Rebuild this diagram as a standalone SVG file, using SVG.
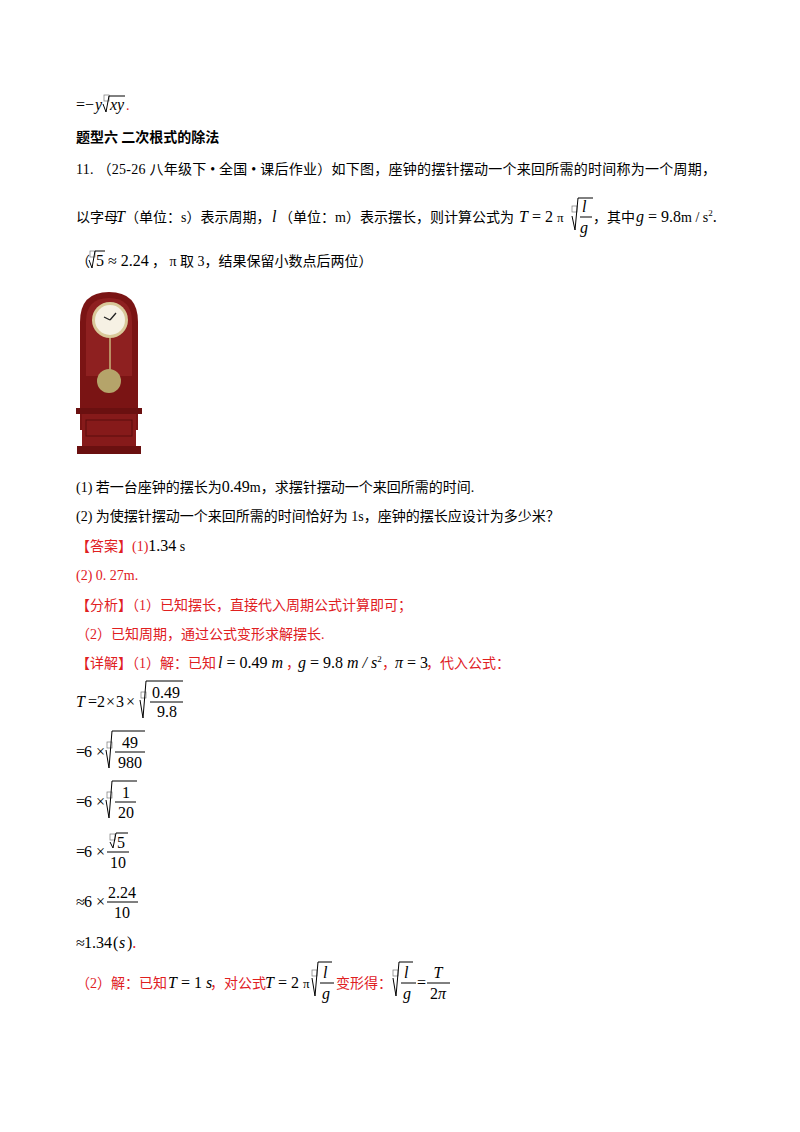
<svg xmlns="http://www.w3.org/2000/svg" width="800" height="1132" viewBox="0 0 800 1132">
<style>
text{font-family:"Liberation Serif","Noto Sans CJK SC",serif;font-size:14px;fill:#000}
.r{fill:#e0201f}
.k{fill:#000}
.i{font-style:italic}
.b{font-weight:bold;font-family:"Noto Sans CJK SC",sans-serif;font-size:14px}
.m{font-size:16px}
.ln{stroke:#000;stroke-width:1;fill:none}
.tofu{fill:#fff;stroke:#777;stroke-width:0.7}
</style>
<rect width="800" height="1132" fill="#fff"/>
<g id="line1">
<text x="76" y="110" class="m">=</text>
<text x="85" y="110" class="m">−</text>
<text x="95" y="110" class="m i">y</text>
<rect class="tofu" x="104" y="95" width="5" height="6"/>
<path class="ln" d="M103,104 l3,8 l3,-16 h16"/>
<text x="110" y="110" class="m i">xy</text><text x="126" y="110" class="r">.</text>
</g>
<text x="76" y="142" class="b">题型六  二次根式的除法</text>
<text x="76" y="174" textLength="640" lengthAdjust="spacing">11. （25-26 八年级下 • 全国 • 课后作业）如下图，座钟的摆针摆动一个来回所需的时间称为一个周期，</text>
<g id="line4">
<text x="76" y="222">以字母</text>
<text x="116" y="222" class="i m">T</text>
<text x="125" y="222">（单位：s）表示周期，</text>
<text x="272" y="222" class="i m">l</text>
<text x="279" y="222">（单位：m）表示摆长，则计算公式为</text>
<text x="519" y="222" class="m"><tspan class="i">T</tspan> = 2 <tspan font-size="13">π</tspan></text>
<rect class="tofu" x="572" y="206" width="5" height="6"/>
<path class="ln" d="M572,216 l3,14 l3,-32 h15"/>
<text x="582" y="212" class="m i">l</text>
<line class="ln" x1="580" y1="217" x2="592" y2="217"/>
<text x="580" y="233" class="m i">g</text>
<text x="593" y="222">，其中</text>
<text x="636" y="222" class="m"><tspan class="i">g</tspan> = 9.8<tspan font-size="14">m / s</tspan><tspan dy="-6" font-size="9">2</tspan><tspan dy="6">.</tspan></text>
</g>
<g id="line5">
<text x="76" y="266">（</text>
<rect class="tofu" x="90" y="251" width="5" height="6"/>
<path class="ln" d="M89,260 l3,8 l3,-17 h10"/>
<text x="96" y="266" class="m">5 ≈ 2.24</text>
<text x="152" y="266">， π 取 3，结果保留小数点后两位）</text>
</g>
<g id="clock">
<path d="M80,430 V322 Q80,292 109,292 Q138,292 138,322 V430 Z" fill="#7a1414"/>
<path d="M86,376 V322 Q86,298 109,298 Q132,298 132,322 V376 Z" fill="#8e2020"/>
<circle cx="110" cy="320" r="18" fill="#d9c99a"/>
<circle cx="110" cy="320" r="15" fill="#f6f1e4"/>
<path d="M110,320 L104,317 M110,320 L116,313" stroke="#222" stroke-width="1.3"/>
<line x1="110" y1="338" x2="110" y2="372" stroke="#c9b57a" stroke-width="1.5"/>
<circle cx="109" cy="381" r="12" fill="#b5a46a"/>
<rect x="76" y="408" width="66" height="6" fill="#6a1010"/>
<rect x="82" y="414" width="54" height="32" fill="#861a1a"/>
<rect x="86" y="420" width="46" height="16" fill="none" stroke="#5a0c0c"/>
<rect x="77" y="446" width="64" height="8" fill="#6a1010"/>
</g>
<text x="76" y="492">(1) 若一台座钟的摆长为<tspan class="m">0.49</tspan>m，求摆针摆动一个来回所需的时间.</text>
<text x="76" y="521">(2) 为使摆针摆动一个来回所需的时间恰好为 1s，座钟的摆长应设计为多少米？</text>
<text x="76" y="551" class="r">【答案】(1)<tspan class="m k">1.34</tspan><tspan class="k"> s</tspan></text>
<text x="76" y="580" class="r">(2) 0. 27m.</text>
<text x="76" y="610" class="r">【分析】（1）已知摆长，直接代入周期公式计算即可；</text>
<text x="76" y="639" class="r">（2）已知周期，通过公式变形求解摆长.</text>
<g id="detail">
<text x="76" y="668" class="r">【详解】（1）解：已知</text>
<text x="218" y="668" class="m k"><tspan class="i">l</tspan> = 0.49 <tspan class="i">m</tspan></text>
<text x="286" y="668" class="r">，</text>
<text x="298" y="668" class="m k"><tspan class="i">g</tspan> = 9.8 <tspan class="i">m / s</tspan><tspan dy="-6" font-size="9">2</tspan></text>
<text x="382" y="668" class="r">，</text>
<text x="395" y="668" class="m k"><tspan class="i">π</tspan> = 3</text>
<text x="426" y="668" class="r">，代入公式：</text>
</g>
<g id="deriv">
<text x="76" y="707" class="m"><tspan class="i">T</tspan><tspan x="88">=</tspan><tspan x="97">2</tspan><tspan x="106">×</tspan><tspan x="116">3</tspan><tspan x="126">×</tspan></text>
<rect class="tofu" x="141" y="692" width="5" height="6"/>
<path class="ln" d="M140,700 l3,18 l3,-37 h37"/>
<text x="166" y="698" class="m" text-anchor="middle">0.49</text>
<line class="ln" x1="150" y1="702" x2="183" y2="702"/>
<text x="167" y="717" class="m" text-anchor="middle">9.8</text>

<text x="76" y="757" class="m">=<tspan x="84">6</tspan><tspan x="96">×</tspan></text>
<rect class="tofu" x="107" y="742" width="5" height="6"/>
<path class="ln" d="M106,750 l3,18 l3,-37 h33"/>
<text x="130" y="748" class="m" text-anchor="middle">49</text>
<line class="ln" x1="115" y1="752" x2="145" y2="752"/>
<text x="130" y="768" class="m" text-anchor="middle">980</text>

<text x="76" y="807" class="m">=<tspan x="84">6</tspan><tspan x="96">×</tspan></text>
<rect class="tofu" x="107" y="792" width="5" height="6"/>
<path class="ln" d="M106,800 l3,18 l3,-37 h25"/>
<text x="126" y="798" class="m" text-anchor="middle">1</text>
<line class="ln" x1="115" y1="802" x2="136" y2="802"/>
<text x="126" y="818" class="m" text-anchor="middle">20</text>

<text x="76" y="857" class="m">=<tspan x="84">6</tspan><tspan x="96">×</tspan></text>
<rect class="tofu" x="110" y="834" width="5" height="6"/>
<path class="ln" d="M110,842 l3,6 l3,-15 h12"/>
<text x="117" y="848" class="m">5</text>
<line class="ln" x1="107" y1="852" x2="129" y2="852"/>
<text x="118" y="868" class="m" text-anchor="middle">10</text>

<text x="76" y="907" class="m">≈<tspan x="84">6</tspan><tspan x="96">×</tspan></text>
<text x="122" y="898" class="m" text-anchor="middle">2.24</text>
<line class="ln" x1="107" y1="902" x2="138" y2="902"/>
<text x="122" y="918" class="m" text-anchor="middle">10</text>

<text x="76" y="948" class="m">≈<tspan x="84">1.34</tspan><tspan x="113">(</tspan><tspan x="119" class="i">s</tspan><tspan x="127">)</tspan><tspan class="r">.</tspan></text>
</g>
<g id="last">
<text x="76" y="988" class="r">（2）解：已知</text>
<text x="168" y="988" class="m k"><tspan class="i">T</tspan> = 1 <tspan class="i">s</tspan></text>
<text x="210" y="988" class="r">，对公式</text>
<text x="265" y="988" class="m k"><tspan class="i">T</tspan> = 2 <tspan font-size="13">π</tspan></text>
<rect class="tofu" x="312" y="970" width="5" height="6"/>
<path class="ln" d="M312,978 l3,18 l3,-34 h14"/>
<text x="323" y="978" class="m i">l</text>
<line class="ln" x1="320" y1="983" x2="334" y2="983"/>
<text x="322" y="999" class="m i">g</text>
<text x="336" y="988" class="r">变形得：</text>
<rect class="tofu" x="393" y="970" width="5" height="6"/>
<path class="ln" d="M393,978 l3,18 l3,-34 h14"/>
<text x="404" y="978" class="m i">l</text>
<line class="ln" x1="401" y1="983" x2="416" y2="983"/>
<text x="403" y="999" class="m i">g</text>
<text x="417" y="988" class="m">=</text>
<text x="438" y="978" class="m i" text-anchor="middle">T</text>
<line class="ln" x1="427" y1="983" x2="450" y2="983"/>
<text x="438" y="999" class="m" text-anchor="middle">2<tspan class="i">π</tspan></text>
</g>
</svg>
